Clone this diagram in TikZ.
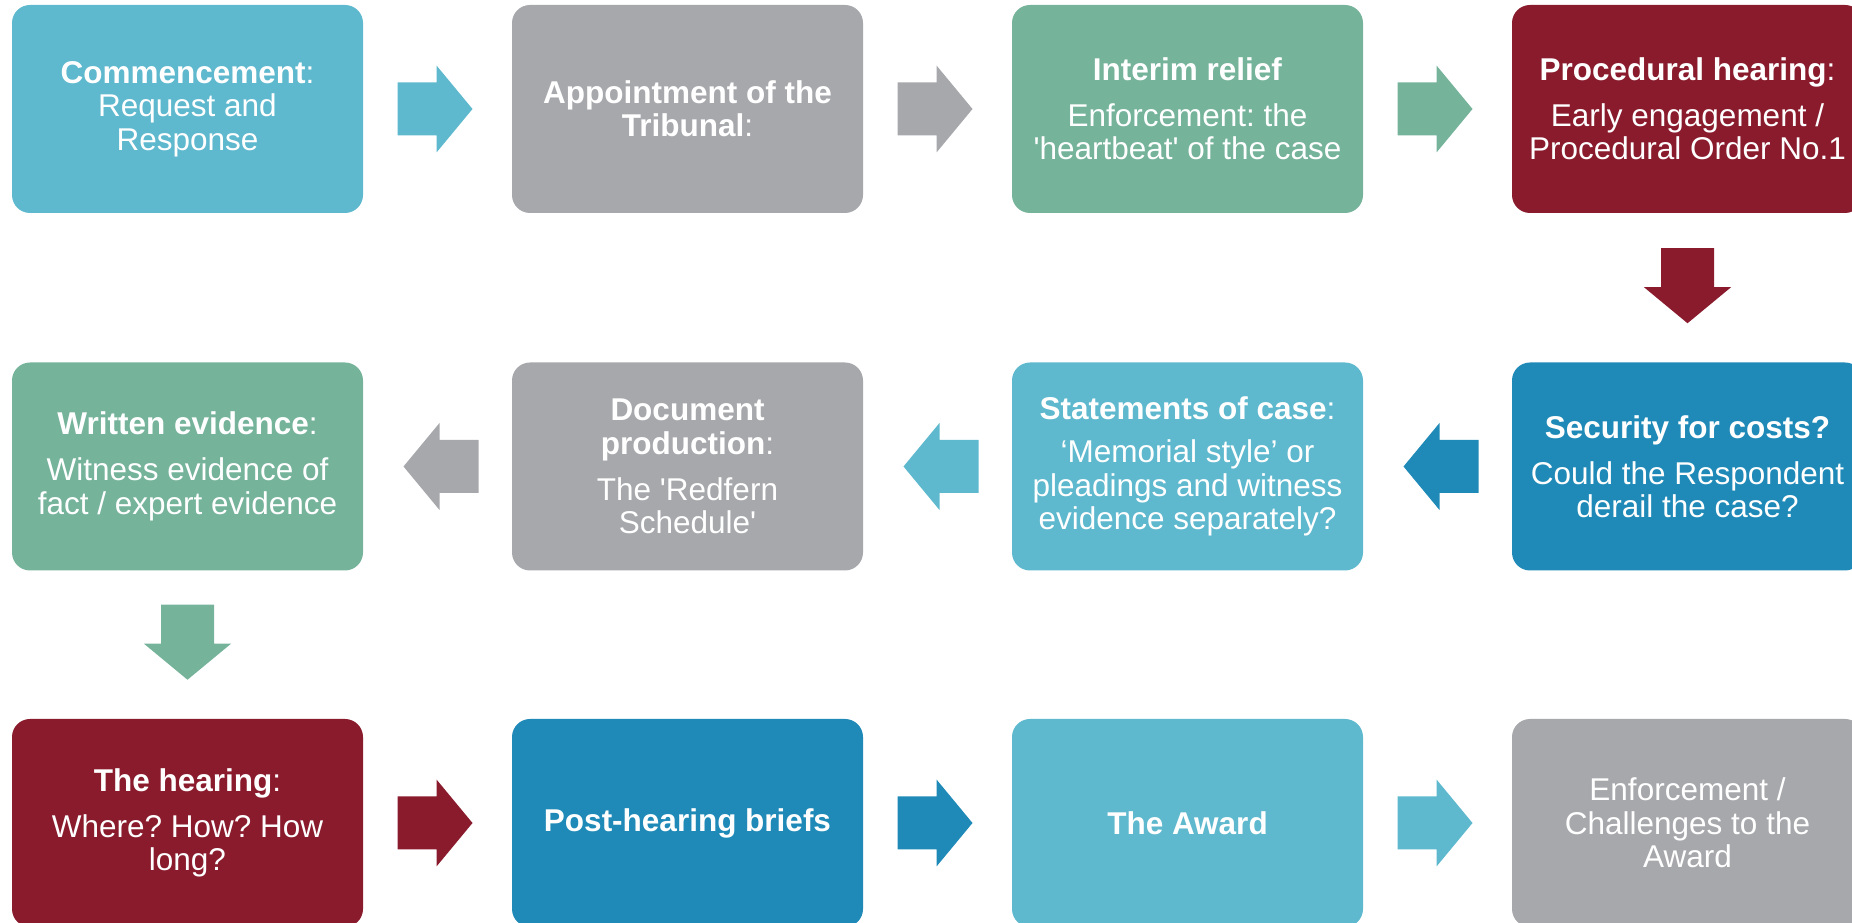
\documentclass[tikz,border=0pt]{standalone}
\usepackage{fontspec}
\setmainfont{Liberation Sans}
\usetikzlibrary{calc}
\definecolor{clb}{RGB}{94,184,206}
\definecolor{cgray}{RGB}{167,168,172}
\definecolor{cgreen}{RGB}{117,179,155}
\definecolor{cred}{RGB}{137,27,45}
\definecolor{cblue}{RGB}{31,138,183}
\tikzset{
  box/.style={rounded corners=18pt, minimum width=351pt, minimum height=208pt,
    inner sep=0pt, text=white, align=center, font=\fontsize{31.5}{33.5}\selectfont\frenchspacing},
  rarr/.pic={\path[pic actions] (-37.5,-26.5) -- (1.5,-26.5) -- (1.5,-43.5) -- (37.5,0)
    -- (1.5,43.5) -- (1.5,26.5) -- (-37.5,26.5) -- cycle;}
}
\begin{document}
\frenchspacing
\begin{tikzpicture}[x=1pt,y=1pt]
\useasboundingbox (0,0) rectangle (1852,923);
\node[box, fill=clb] (b1) at (187.5,814) {\textbf{Commencement}:\\Request and\\Response};
\node[box, fill=cgray] (b2) at (687.5,814) {\textbf{Appointment of the}\\\textbf{Tribunal}:};
\node[box, fill=cgreen] (b3) at (1187.5,814) {\textbf{Interim relief}\\[12.5pt]Enforcement: the\\\textquotesingle heartbeat\textquotesingle{} of the case};
\node[box, fill=cred] (b4) at (1687.5,814) {\textbf{Procedural hearing}:\\[12.5pt]Early engagement /\\Procedural Order No.1};
\node[box, fill=cblue] (b5) at (1687.5,456.5) {\textbf{Security for costs?}\\[12.5pt]Could the Respondent\\derail the case?};
\node[box, fill=clb] (b6) at (1187.5,456.5) {\textbf{Statements of case}:\\[9.5pt]‘Memorial style’ or\\pleadings and witness\\evidence separately?};
\node[box, fill=cgray] (b7) at (687.5,456.5) {\textbf{Document}\\\textbf{production}:\\[12.5pt]The \textquotesingle Redfern\\Schedule\textquotesingle};
\node[box, fill=cgreen] (b8) at (187.5,456.5) {\textbf{Written evidence}:\\[12.5pt]Witness evidence of\\fact / expert evidence};
\node[box, fill=cred] (b9) at (187.5,100) {\textbf{The hearing}:\\[12.5pt]Where? How? How\\long?};
\node[box, fill=cblue] (b10) at (687.5,100) {\textbf{Post-hearing briefs}};
\node[box, fill=clb] (b11) at (1187.5,100) {\textbf{The Award}};
\node[box, fill=cgray] (b12) at (1687.5,100) {Enforcement /\\Challenges to the\\Award};
% connectors
\coordinate (a12) at ($(b1.east)!0.5!(b2.west)+(-2.5,0)$);
\coordinate (a23) at ($(b2.east)!0.5!(b3.west)+(-2.5,0)$);
\coordinate (a34) at ($(b3.east)!0.5!(b4.west)+(-2.5,0)$);
\coordinate (a45) at ($(b4.south)!0.5!(b5.north)+(0,2)$);
\coordinate (a56) at ($(b5.west)!0.5!(b6.east)+(3.5,0)$);
\coordinate (a67) at ($(b6.west)!0.5!(b7.east)+(3.5,0)$);
\coordinate (a78) at ($(b7.west)!0.5!(b8.east)+(3.5,0)$);
\coordinate (a89) at ($(b8.south)!0.5!(b9.north)+(0,2.5)$);
\coordinate (a910) at ($(b9.east)!0.5!(b10.west)+(-2.5,0)$);
\coordinate (a1011) at ($(b10.east)!0.5!(b11.west)+(-2.5,0)$);
\coordinate (a1112) at ($(b11.east)!0.5!(b12.west)+(-2.5,0)$);
\pic[fill=clb] at (a12) {rarr};
\pic[fill=cgray] at (a23) {rarr};
\pic[fill=cgreen] at (a34) {rarr};
\pic[fill=cred, rotate=-90] at (a45) {rarr};
\pic[fill=cblue, rotate=180] at (a56) {rarr};
\pic[fill=clb, rotate=180] at (a67) {rarr};
\pic[fill=cgray, rotate=180] at (a78) {rarr};
\pic[fill=cgreen, rotate=-90] at (a89) {rarr};
\pic[fill=cred] at (a910) {rarr};
\pic[fill=cblue] at (a1011) {rarr};
\pic[fill=clb] at (a1112) {rarr};
\end{tikzpicture}
\end{document}
